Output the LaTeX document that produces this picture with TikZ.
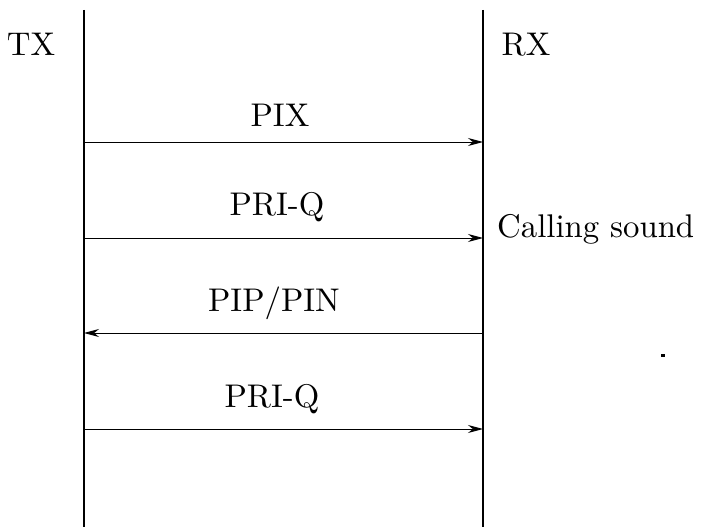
\documentclass[tikz,border=0pt]{standalone}
\usepackage{fontspec}
\setmainfont{lmroman10-regular.otf}
\usetikzlibrary{arrows.meta}
\begin{document}
\begin{tikzpicture}[x=1pt,y=-1pt,
  lbl/.style={inner sep=0pt,anchor=base,font=\fontsize{32.8}{38}\selectfont},
  life/.style={line width=1.2pt},
  msg/.style={line width=0.9pt,-{Stealth[length=15pt,width=8pt]}}]
\useasboundingbox (0,0) rectangle (705,527);
% lifelines
\coordinate (Ltop) at (84,10);
\coordinate (Lbot) at (84,527);
\coordinate (Rtop) at (483,10);
\coordinate (Rbot) at (483,527);
\draw[life] (Ltop) -- (Lbot);
\draw[life] (Rtop) -- (Rbot);
% participant labels
\node[lbl] (tx) at (31,56) {TX};
\node[lbl] (rx) at (526,56) {RX};
% message end points
\coordinate (L1) at (84,142);  \coordinate (R1) at (483,142);
\coordinate (L2) at (84,238);  \coordinate (R2) at (483,238);
\coordinate (L3) at (84,333);  \coordinate (R3) at (483,333);
\coordinate (L4) at (84,429);  \coordinate (R4) at (483,429);
\draw[msg] (L1) -- (R1);
\draw[msg] (L2) -- (R2);
\draw[msg] (R3) -- (L3);
\draw[msg] (L4) -- (R4);
% message labels
\node[lbl] (m1) at (280,126) {PIX};
\node[lbl] (m2) at (277,215) {PRI-Q};
\node[lbl] (m3) at (274,311) {PIP/PIN};
\node[lbl] (m4) at (272,407) {PRI-Q};
\node[lbl,anchor=base west] (cs) at (497,237) {Calling sound};
% stray mark
\fill (661,354) rectangle (665,357);
\end{tikzpicture}
\end{document}
